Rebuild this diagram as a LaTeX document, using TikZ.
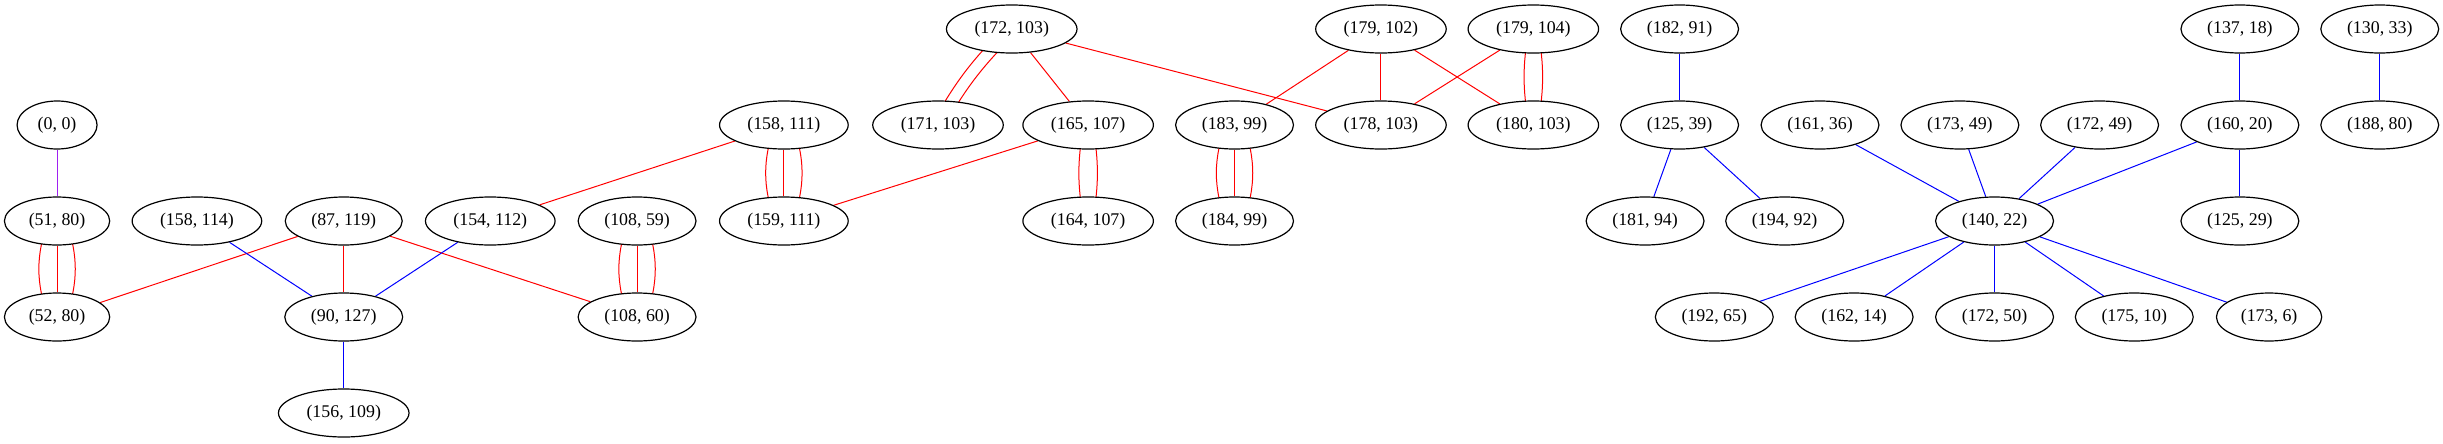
\documentclass[tikz,border=0pt]{standalone}
\usepackage{fontspec}
\setmainfont{Liberation Serif}
\usetikzlibrary{calc,shapes.geometric}
\pgfdeclarelayer{bg}
\pgfsetlayers{bg,main}
\definecolor{ered}{HTML}{FF0000}
\definecolor{eblue}{HTML}{0000FF}
\definecolor{epurple}{HTML}{A020F0}
\begin{document}
\begin{tikzpicture}[x=1pt,y=1pt,
  gnode/.style={ellipse,draw=black,fill=white,line width=0.9pt,minimum height=36pt,inner xsep=6.7pt,inner ysep=2pt,font=\fontsize{13.4}{16}\selectfont},
  redE/.style={draw=ered,line width=0.75pt},
  blueE/.style={draw=eblue,line width=0.75pt},
  purpleE/.style={draw=epurple,line width=0.75pt}]
\useasboundingbox (0,0) rectangle (1832.25,-332.25);
\def\ra{-21.75}\def\rb{-93.75}\def\rc{-165.75}\def\rd{-237.75}\def\re{-309.75}
% nodes
\node[gnode] (n00) at (42.8,\rb) {(0, 0)};
\node[gnode] (n5180) at (42.8,\rc) {(51, 80)};
\node[gnode] (n5280) at (42.8,\rd) {(52, 80)};
\node[gnode] (n158114) at (147.7,\rc) {(158, 114)};
\node[gnode] (n87119) at (257.8,\rc) {(87, 119)};
\node[gnode] (n90127) at (257.8,\rd) {(90, 127)};
\node[gnode] (n156109) at (257.8,\re) {(156, 109)};
\node[gnode] (n154112) at (367.7,\rc) {(154, 112)};
\node[gnode] (n10859) at (477.8,\rc) {(108, 59)};
\node[gnode] (n10860) at (477.8,\rd) {(108, 60)};
\node[gnode] (n158111) at (587.9,\rb) {(158, 111)};
\node[gnode] (n159111) at (587.9,\rc) {(159, 111)};
\node[gnode] (n171103) at (703.5,\rb) {(171, 103)};
\node[gnode] (n172103) at (758.8,\ra) {(172, 103)};
\node[gnode] (n165107) at (816.1,\rb) {(165, 107)};
\node[gnode] (n164107) at (816.1,\rc) {(164, 107)};
\node[gnode] (n18399) at (925.9,\rb) {(183, 99)};
\node[gnode] (n18499) at (925.9,\rc) {(184, 99)};
\node[gnode] (n179102) at (1035.7,\ra) {(179, 102)};
\node[gnode] (n178103) at (1035.7,\rb) {(178, 103)};
\node[gnode] (n179104) at (1150,\ra) {(179, 104)};
\node[gnode] (n180103) at (1150,\rb) {(180, 103)};
\node[gnode] (n18291) at (1259.7,\ra) {(182, 91)};
\node[gnode] (n12539) at (1259.7,\rb) {(125, 39)};
\node[gnode] (n18194) at (1233.8,\rc) {(181, 94)};
\node[gnode] (n19492) at (1338.5,\rc) {(194, 92)};
\node[gnode] (n16136) at (1365,\rb) {(161, 36)};
\node[gnode] (n17349) at (1469.9,\rb) {(173, 49)};
\node[gnode] (n17249) at (1574.7,\rb) {(172, 49)};
\node[gnode] (n16020) at (1679.9,\rb) {(160, 20)};
\node[gnode] (n13718) at (1679.9,\ra) {(137, 18)};
\node[gnode] (n12529) at (1679.9,\rc) {(125, 29)};
\node[gnode] (n13033) at (1784.8,\ra) {(130, 33)};
\node[gnode] (n18880) at (1784.8,\rb) {(188, 80)};
\node[gnode] (n14022) at (1495.9,\rc) {(140, 22)};
\node[gnode] (n19265) at (1285.7,\rd) {(192, 65)};
\node[gnode] (n16214) at (1390.6,\rd) {(162, 14)};
\node[gnode] (n17250) at (1495.9,\rd) {(172, 50)};
\node[gnode] (n17510) at (1600.7,\rd) {(175, 10)};
\node[gnode] (n1736) at (1701.8,\rd) {(173, 6)};
% edges
\begin{pgfonlayer}{bg}
% purple
\draw[purpleE] (n00) -- (n5180);
% triple vertical
\foreach \a/\b in {n5180/n5280, n10859/n10860, n158111/n159111, n18399/n18499}{
  \draw[redE] (\a) -- (\b);
  \draw[redE] ([xshift=-6.8pt]\a.center) to[bend right=19] ([xshift=-6.8pt]\b.center);
  \draw[redE] ([xshift=6.8pt]\a.center) to[bend left=19] ([xshift=6.8pt]\b.center);
}
% double vertical
\foreach \a/\b in {n165107/n164107, n179104/n180103}{
  \draw[redE] ([xshift=-3.3pt]\a.center) to[bend right=10] ([xshift=-3.3pt]\b.center);
  \draw[redE] ([xshift=3.3pt]\a.center) to[bend left=10] ([xshift=3.3pt]\b.center);
}
% double diagonal
\draw[redE] ($(n172103)!4.5pt!90:(n171103)$) to[bend right=8] ($(n171103)!4.5pt!-90:(n172103)$);
\draw[redE] ($(n172103)!4.5pt!-90:(n171103)$) to[bend right=8] ($(n171103)!4.5pt!90:(n172103)$);
% single red
\foreach \a/\b in {n172103/n165107, n172103/n178103, n179102/n18399, n179102/n178103, n179102/n180103, n179104/n178103, n158111/n154112, n165107/n159111, n87119/n5280, n87119/n90127, n87119/n10860}{
  \draw[redE] (\a) -- (\b);
}
% blue
\foreach \a/\b in {n158114/n90127, n154112/n90127, n90127/n156109, n18291/n12539, n12539/n18194, n12539/n19492, n16136/n14022, n17349/n14022, n17249/n14022, n16020/n14022, n13718/n16020, n16020/n12529, n13033/n18880, n14022/n19265, n14022/n16214, n14022/n17250, n14022/n17510, n14022/n1736}{
  \draw[blueE] (\a) -- (\b);
}
\end{pgfonlayer}
\end{tikzpicture}
\end{document}
